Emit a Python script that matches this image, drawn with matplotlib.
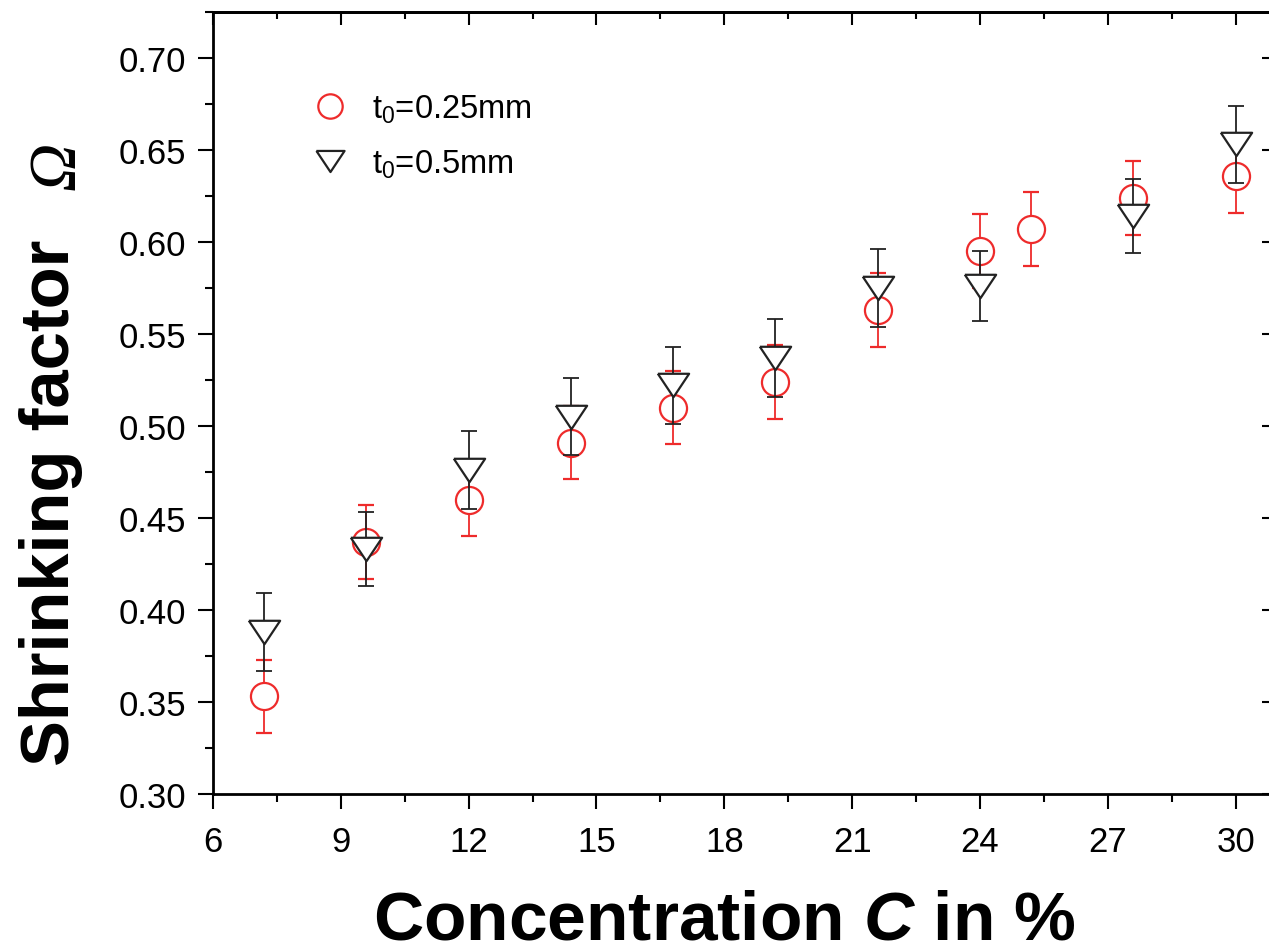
import matplotlib
matplotlib.use("Agg")
import matplotlib.pyplot as plt
from matplotlib.ticker import MultipleLocator

plt.rcParams["font.family"] = ["Liberation Sans", "DejaVu Sans"]
plt.rcParams["mathtext.fontset"] = "custom"
plt.rcParams["mathtext.rm"] = "Liberation Sans"
plt.rcParams["mathtext.it"] = "Liberation Sans:italic:bold"
plt.rcParams["mathtext.bf"] = "Liberation Sans:bold"

# t0 = 0.25 mm (red circles)
conc_thin = [7.2, 9.6, 12.0, 14.4, 16.8, 19.2, 21.6, 24.0, 25.2, 27.6, 30.0]
omega_thin = [0.353, 0.437, 0.460, 0.491, 0.510, 0.524, 0.563, 0.595, 0.607, 0.624, 0.636]
err_thin = [0.020, 0.020, 0.020, 0.020, 0.020, 0.020, 0.020, 0.020, 0.020, 0.020, 0.020]

# t0 = 0.5 mm (black triangles)
conc_thick = [7.2, 9.6, 12.0, 14.4, 16.8, 19.2, 21.6, 24.0, 27.6, 30.0]
omega_thick = [0.388, 0.433, 0.476, 0.505, 0.522, 0.537, 0.575, 0.576, 0.614, 0.653]
err_thick = [0.021, 0.020, 0.021, 0.021, 0.021, 0.021, 0.021, 0.019, 0.020, 0.021]

labels = ["t$_0$=0.25mm", "t$_0$=0.5mm"]

red = "#ee2b2b"
dark = "#222222"
tri = [(-1, 0.75), (1, 0.75), (0, -0.75), (-1, 0.75)]

fig = plt.figure(figsize=(12.69, 9.53), dpi=100)
ax = fig.add_axes([0.1678, 0.1658, 0.8345, 0.8206])

eb1 = ax.errorbar(conc_thin, omega_thin, yerr=err_thin, fmt="o", color=red,
                  ms=19.5, mfc="white", mec=red, mew=1.6, elinewidth=1.3,
                  capsize=6, capthick=1.3, zorder=3)
eb2 = ax.errorbar(conc_thick, omega_thick, yerr=err_thick, fmt="none", color=dark,
                  elinewidth=1.3, capsize=6, capthick=1.3, zorder=4)
tri_line, = ax.plot(conc_thick, omega_thick, ls="none", marker=tri, ms=22.5,
                    mfc="white", mec=dark, mew=1.6, zorder=4.5)

ax.set_xlim(6, 30.85)
ax.set_ylim(0.30, 0.725)
ax.xaxis.set_major_locator(MultipleLocator(3))
ax.xaxis.set_minor_locator(MultipleLocator(1.5))
ax.yaxis.set_major_locator(MultipleLocator(0.05))
ax.yaxis.set_minor_locator(MultipleLocator(0.025))
ax.yaxis.set_major_formatter(plt.FormatStrFormatter("%.2f"))

for sp in ax.spines.values():
    sp.set_linewidth(2)
ax.tick_params(which="major", direction="out", length=10.5, width=1.5,
               labelsize=25, pad=9, colors="black")
ax.tick_params(which="minor", direction="out", length=5.5, width=1.5)
ax.tick_params(axis="x", pad=12)

top = ax.secondary_xaxis("top")
top.xaxis.set_major_locator(MultipleLocator(3))
top.xaxis.set_minor_locator(MultipleLocator(1.5))
top.tick_params(which="major", direction="in", length=9.5, width=1.5, labeltop=False)
top.tick_params(which="minor", direction="in", length=5, width=1.5)
top.spines["top"].set_linewidth(2)

right = ax.secondary_yaxis("right")
right.yaxis.set_major_locator(MultipleLocator(0.05))
right.tick_params(which="major", direction="in", length=7.5, width=1.5, labelright=False)
right.tick_params(which="minor", length=0)

ax.set_xlabel(r"Concentration $C$ in %", fontsize=50, fontweight="bold")
ax.xaxis.set_label_coords((725 - 213) / 1059, -0.121)

fig.text(51 / 1269, 1 - 503 / 953, "Shrinking factor", fontsize=49.5,
         fontweight="bold", rotation=90, ha="center", va="center")
fig.text(58 / 1269, 1 - 166 / 953, "\u03a9", fontsize=48,
         family=["Liberation Serif", "DejaVu Serif"], style="italic",
         rotation=90, ha="center", va="center")

ax.legend([eb1.lines[0], tri_line], labels, loc="upper left", frameon=False,
          bbox_to_anchor=(0.052, 0.935), fontsize=23.5, handletextpad=0.3,
          labelspacing=0.7, markerscale=0.9)

fig.savefig("out.png", dpi=100)
